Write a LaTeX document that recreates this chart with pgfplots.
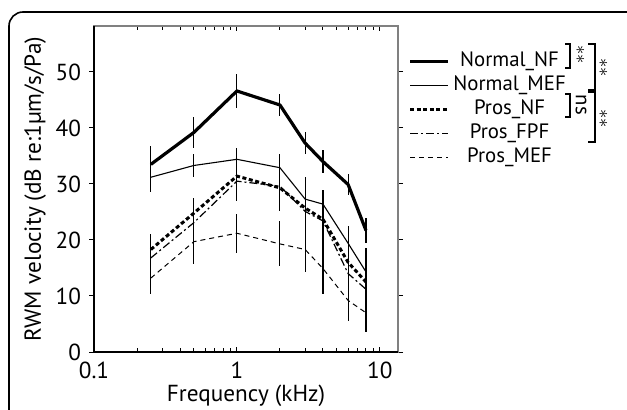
\documentclass[border=0pt]{standalone}
\usepackage{pgfplots}
\pgfplotsset{compat=1.18}
\usepackage{pgfplotstable}
\usepackage{fontspec}
\setmainfont{PT Sans}

\pgfplotstableread{
x y e
0.25 33.5 3.2
0.5 39.2 2.8
1 46.6 3.0
2 44.1 2.0
3 37.3 2.0
4 34.0 2.1
6 29.9 1.8
8 21.7 2.3
}\NormalNF
\pgfplotstableread{
x y e
0.25 31.2 2.6
0.5 33.3 2.0
1 34.4 2.1
2 32.9 2.4
3 27.3 3.0
4 26.4 2.5
6 19.4 3.0
8 14.3 3.5
}\NormalMEF
\pgfplotstableread{
x y e
0.25 18.3 2.8
0.5 24.8 2.7
1 31.4 3.0
2 29.3 4.0
3 25.7 5.5
4 23.7 4.8
6 16.0 6.5
8 12.5 6.0
}\ProsNF
\pgfplotstableread{
x y e
0.25 16.8 2.5
0.5 23.1 3.0
1 30.5 3.5
2 29.6 4.5
3 25.1 5.0
4 23.4 5.5
6 14.0 5.0
8 11.2 5.0
}\ProsFPF
\pgfplotstableread{
x y e
0.25 13.2 2.8
0.5 19.7 4.0
1 21.2 3.5
2 19.3 4.0
3 18.3 4.0
4 14.9 4.5
6 9.2 3.7
8 7.0 3.4
}\ProsMEF

\newcommand{\fs}{\fontsize{11.6}{13}\selectfont}
\newcommand{\fl}{\fontsize{10.4}{12}\selectfont}
\newcommand{\stars}{\fontsize{9}{10}\selectfont$\mathord{\ast}\mathord{\ast}$}
\newcommand{\legtxt}[1]{\makebox[54pt][c]{#1}}
\begin{document}
\begin{tikzpicture}
\useasboundingbox (0,0) rectangle (313.5pt,204.5pt);
\begin{scope}
\clip (0,0) rectangle (313.5pt,204.5pt);
\draw[line width=0.8pt, rounded corners=7pt] (4.5pt,-20pt) rectangle (340pt,198.5pt);
\end{scope}
\begin{axis}[
  at={(47pt,28.5pt)}, anchor=south west,
  width=152pt, height=163pt, scale only axis,
  xmode=log, xmin=0.1, xmax=13.4, ymin=0, ymax=58.2,
  xtick={0.1,1,10}, xticklabels={0.1,1,10},
  ytick={0,10,20,30,40,50},
  xtick align=inside, ytick align=outside,
  major tick length=2.5pt, minor tick length=1.8pt,
  tick style={black, line width=0.5pt},
  axis line style={gray, line width=0.6pt},
  font=\fs,
  ticklabel style={font=\fs},
  /pgf/number format/assume math mode=true,
  xlabel={Frequency (kHz)},
  ylabel={RWM velocity (dB re:1\textmu m/s/Pa)},
  xlabel style={yshift=4pt},
  ylabel style={yshift=-2pt},
  xticklabel style={yshift=-1.5pt},
  yticklabel style={xshift=-0.5pt},
  error bars/y dir=both, error bars/y explicit,
  error bars/error mark=none,
  error bars/error bar style={black, solid, line width=0.55pt},
  legend style={draw=none, fill=none, at={(1,1)}, anchor=north west,
    xshift=5pt, yshift=-11.5pt,
    font=\fl,
    row sep=0pt, inner sep=0pt,
    nodes={inner sep=0pt, text height=8.5pt, text depth=3.5pt},
    /tikz/every odd column/.append style={column sep=3pt}},
  legend cell align=left,
  legend image code/.code={\draw[#1] (0pt,0pt) -- (19pt,0pt);},
  after end axis/.code={
    \draw[black, line width=0.6pt] (rel axis cs:0,1) -- (rel axis cs:0,0) -- (rel axis cs:1,0);
  },
]
\addplot[black, line width=1.6pt, line join=round] table[x=x, y=y, y error=e] {\NormalNF};
\addlegendentry{\legtxt{Normal\_NF}}
\addplot[black, line width=0.55pt] table[x=x, y=y, y error=e] {\NormalMEF};
\addlegendentry{\legtxt{Normal\_MEF}}
\addplot[black, line width=1.5pt, dash pattern=on 2pt off 1.3pt] table[x=x, y=y, y error=e] {\ProsNF};
\addlegendentry{\legtxt{Pros\_NF}}
\addplot[black, line width=0.6pt, dash pattern=on 4pt off 1.5pt on 1pt off 1.5pt] table[x=x, y=y, y error=e] {\ProsFPF};
\addlegendentry{\legtxt{Pros\_FPF}}
\addplot[black, line width=0.5pt, dash pattern=on 2.5pt off 2pt] table[x=x, y=y, y error=e] {\ProsMEF};
\addlegendentry{\legtxt{Pros\_MEF}}
\end{axis}
% significance brackets
\begin{scope}[line width=0.55pt, black]
\draw (282.5pt,182.5pt) -- (285pt,182.5pt) -- (285pt,170.5pt) -- (282.5pt,170.5pt);
\draw (294pt,182.5pt) -- (297.5pt,182.5pt) -- (297.5pt,159.5pt) -- (294pt,159.5pt);
\draw (282.5pt,157.5pt) -- (285pt,157.5pt) -- (285pt,146pt) -- (282.5pt,146pt);
\draw (294pt,158.5pt) -- (297.5pt,158.5pt) -- (297.5pt,133.5pt) -- (294pt,133.5pt);
\end{scope}
\node[rotate=-90, inner sep=0pt] at (290pt,177pt) {\stars};
\node[rotate=-90, inner sep=0pt] at (301.5pt,170.5pt) {\stars};
\node[rotate=-90, inner sep=0pt, font=\fl] at (290.5pt,152pt) {ns};
\node[rotate=-90, inner sep=0pt] at (301.5pt,145pt) {\stars};
\end{tikzpicture}
\end{document}
